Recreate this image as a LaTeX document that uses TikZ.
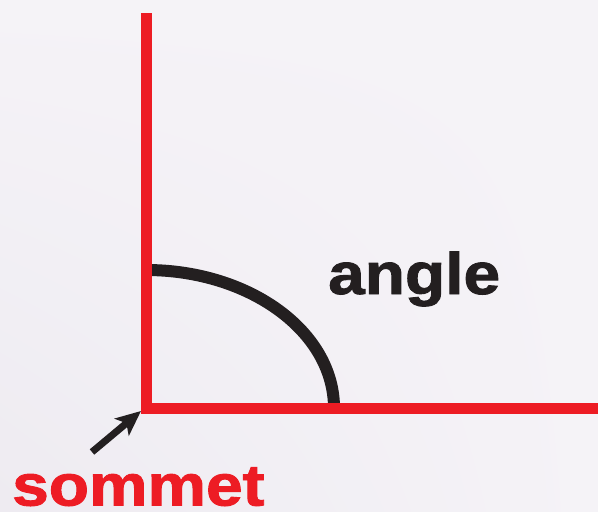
\documentclass[tikz,border=0pt]{standalone}
\usepackage{fontspec}
\setmainfont{Liberation Sans}
\newfontfamily\heavyfont{Liberation Sans Bold}[FakeBold=1.5]
\usetikzlibrary{arrows.meta,shadings}
\definecolor{redline}{RGB}{237,28,36}
\definecolor{ink}{RGB}{35,31,32}
\definecolor{bgA}{RGB}{245,243,247}
\definecolor{bgB}{RGB}{238,235,241}
\tikzset{
  ray/.style={draw=redline,line width=11pt,line join=miter},
  anglearc/.style={draw=ink,line width=12pt},
  pointer/.style={draw=ink,line width=7pt,-{Stealth[length=25pt,width=22pt,inset=6pt]}},
  bigword/.style={font=\fontsize{58.5}{58.5}\heavyfont,inner sep=0pt,anchor=base west,xscale=1.125}
}
\begin{document}
\begin{tikzpicture}[x=1pt,y=-1pt]
\useasboundingbox (0,0) rectangle (598,512);
\shade[upper right=bgA,lower left=bgB,upper left=bgA,lower right=bgA] (0,0) rectangle (598,512);
\coordinate (v) at (146.5,408.5);
\coordinate (top) at (146.5,13);
\coordinate (right) at (598,408.5);
\coordinate (tip) at (141,411);
\coordinate (tail) at (92,452);
% angle arc
\draw[anglearc] (146,270) arc[start angle=90,end angle=0,x radius=188,y radius=-138];
% rays
\draw[ray] (top) -- (v) -- (right);
% pointer to vertex
\draw[pointer] (tail) -- (tip);
% labels
\node[bigword,text=ink] (angle) at (328,294) {angle};
\node[bigword,text=redline] (sommet) at (12,505.5) {sommet};
\end{tikzpicture}
\end{document}
